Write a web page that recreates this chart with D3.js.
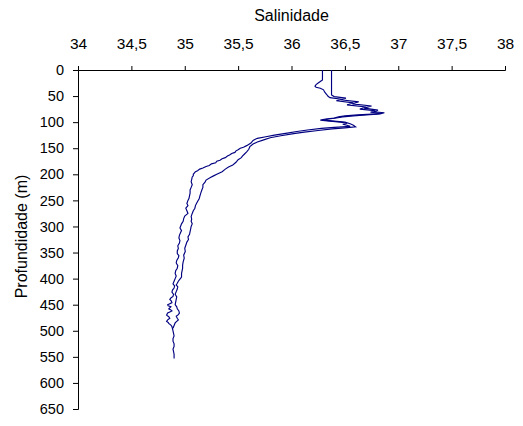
<!DOCTYPE html>
<html>
<head>
<meta charset="utf-8">
<script src="https://cdn.jsdelivr.net/npm/d3@7"></script>
<style>
  html, body { margin: 0; padding: 0; background: #fff; }
  svg { display: block; font-family: "Liberation Sans", Arial, sans-serif; }
</style>
</head>
<body>
<svg id="chart" width="523" height="426"></svg>
<script>
// Salinity ticks (top axis) and depth ticks (left axis)
const salTicks = [34, 34.5, 35, 35.5, 36, 36.5, 37, 37.5, 38];
const depthTicks = [0, 50, 100, 150, 200, 250, 300, 350, 400, 450, 500, 550, 600, 650];

// Profile 1: [depth (m), salinity]
const perfil1 = [
  [0, 36.29], [5, 36.29], [10, 36.29], [15, 36.29], [19, 36.29], [22, 36.27], [25, 36.25],
  [28, 36.23], [31, 36.22], [33, 36.23], [35, 36.27], [38, 36.30], [42, 36.31], [47, 36.33],
  [50, 36.34], [53, 36.36], [56, 36.47], [59, 36.42], [63, 36.58], [67, 36.52], [71, 36.70],
  [75, 36.64], [78, 36.78], [81, 36.74], [83, 36.84], [84, 36.80], [86, 36.62], [88, 36.50],
  [90, 36.44], [92, 36.40], [94, 36.32], [96, 36.27], [98, 36.36], [100, 36.46], [102, 36.52],
  [104, 36.48], [106, 36.52], [108, 36.55], [110, 36.40], [112, 36.28], [115, 36.15], [118, 36.05],
  [121, 35.96], [125, 35.84], [128, 35.76], [131, 35.68], [135, 35.64], [140, 35.62], [145, 35.58],
  [148, 35.55], [150, 35.52], [153, 35.50], [155, 35.48], [158, 35.47], [160, 35.44], [163, 35.42],
  [165, 35.40], [168, 35.38], [170, 35.35], [173, 35.33], [175, 35.30], [178, 35.29], [180, 35.25],
  [183, 35.23], [185, 35.20], [188, 35.17], [190, 35.14], [193, 35.12], [195, 35.10], [200, 35.08],
  [203, 35.08], [205, 35.07], [210, 35.065], [214, 35.06], [220, 35.07], [225, 35.06], [230, 35.05],
  [236, 35.05], [241, 35.045], [246, 35.04], [250, 35.03], [256, 35.02], [260, 35.03], [265, 35.01],
  [270, 35.02], [275, 35.03], [280, 35.00], [285, 34.99], [290, 34.985], [295, 34.97], [303, 34.955],
  [308, 34.97], [312, 34.96], [317, 34.95], [322, 34.945], [327, 34.955], [332, 34.95], [337, 34.935],
  [342, 34.94], [347, 34.93], [352, 34.93], [356, 34.945], [360, 34.94], [365, 34.925], [370, 34.92],
  [375, 34.935], [380, 34.93], [385, 34.915], [390, 34.91], [395, 34.92], [400, 34.91], [405, 34.90],
  [410, 34.89], [414, 34.905], [418, 34.90], [422, 34.885], [426, 34.88], [430, 34.895], [434, 34.89],
  [437, 34.87], [440, 34.86], [443, 34.875], [446, 34.88], [448, 34.86], [450, 34.84], [452, 34.845],
  [454, 34.87], [456, 34.86], [458, 34.85], [460, 34.87], [462, 34.88], [464, 34.86], [466, 34.84],
  [468, 34.835], [470, 34.83], [473, 34.85], [476, 34.86], [479, 34.84], [482, 34.83], [484, 34.845],
  [486, 34.85], [489, 34.87], [492, 34.88], [496, 34.885], [500, 34.89], [505, 34.895], [510, 34.90],
  [515, 34.89], [520, 34.89], [525, 34.90], [530, 34.90], [535, 34.89], [540, 34.895], [545, 34.90],
  [548, 34.90], [553, 34.90]
];

// Profile 2: [depth (m), salinity]
const perfil2 = [
  [0, 36.375], [10, 36.375], [20, 36.375], [30, 36.375], [40, 36.375], [48, 36.375],
  [51, 36.40], [54, 36.51], [57, 36.46], [61, 36.63], [65, 36.57], [69, 36.75], [73, 36.68],
  [77, 36.81], [80, 36.77], [82, 36.87], [84, 36.83], [86, 36.70], [88, 36.58],
  [90, 36.48], [92, 36.42], [94, 36.35], [96, 36.30], [98, 36.40], [100, 36.50], [103, 36.55],
  [106, 36.58], [109, 36.60], [111, 36.50], [113, 36.38], [116, 36.25], [119, 36.12], [122, 36.02],
  [126, 35.90], [130, 35.80], [134, 35.74], [138, 35.68], [142, 35.64], [147, 35.61], [152, 35.60],
  [157, 35.58], [161, 35.56], [165, 35.54], [168, 35.53], [172, 35.50], [177, 35.48], [182, 35.45],
  [186, 35.41], [190, 35.38], [195, 35.35], [200, 35.30], [203, 35.27], [206, 35.24], [211, 35.20],
  [215, 35.19], [220, 35.17], [225, 35.17], [230, 35.16], [236, 35.15], [243, 35.14], [247, 35.135],
  [252, 35.12], [256, 35.11], [260, 35.10], [265, 35.095], [270, 35.08], [275, 35.07], [281, 35.06],
  [286, 35.065], [290, 35.06], [295, 35.07], [300, 35.06], [305, 35.055], [310, 35.05], [315, 35.045],
  [320, 35.03], [325, 35.035], [330, 35.02], [336, 35.01], [342, 35.00], [348, 35.005], [355, 34.99],
  [361, 34.995], [368, 34.985], [374, 34.98], [380, 34.98], [385, 34.975], [390, 34.97], [397, 34.97],
  [401, 34.955], [405, 34.94], [409, 34.93], [412, 34.92], [416, 34.935], [420, 34.93], [425, 34.92],
  [430, 34.91], [435, 34.925], [440, 34.92], [445, 34.915], [450, 34.91], [454, 34.925], [458, 34.93],
  [462, 34.945], [466, 34.95], [469, 34.94], [472, 34.92], [476, 34.93], [479, 34.94], [482, 34.925],
  [485, 34.91], [490, 34.90], [495, 34.89]
];

const svg = d3.select("#chart");
const mLeft = 78, mRight = 505, mTop = 70, mBottom = 409;

const x = d3.scaleLinear().domain([34, 38]).range([mLeft, mRight]);
const y = d3.scaleLinear().domain([0, 650]).range([mTop, mBottom]);

const ptBR = d3.formatLocale({ decimal: ",", thousands: ".", grouping: [3], currency: ["R$", ""] });
const fmt = v => ptBR.format("~g")(v);

// Top salinity axis
const xAxis = svg.append("g")
  .attr("transform", `translate(0,${mTop})`)
  .call(d3.axisTop(x).tickValues(salTicks).tickFormat(fmt).tickSize(4).tickPadding(17));
xAxis.selectAll("text").attr("font-size", "15.5px").attr("fill", "#000")
  .attr("font-family", "Liberation Sans, Arial, sans-serif");

// Left depth axis
const yAxis = svg.append("g")
  .attr("transform", `translate(${mLeft},0)`)
  .call(d3.axisLeft(y).tickValues(depthTicks).tickFormat(d3.format("d")).tickSize(5).tickPadding(9));
yAxis.selectAll("text").attr("font-size", "14.5px").attr("fill", "#000")
  .attr("font-family", "Liberation Sans, Arial, sans-serif");

svg.selectAll(".domain, .tick line").attr("stroke", "#000").attr("stroke-width", 1);

// Axis titles
svg.append("text")
  .attr("x", (mLeft + mRight) / 2).attr("y", 21)
  .attr("text-anchor", "middle").attr("font-size", "16px").attr("fill", "#000")
  .text("Salinidade");

svg.append("text")
  .attr("transform", `translate(27,${(mTop + mBottom) / 2 - 3}) rotate(-90)`)
  .attr("text-anchor", "middle").attr("font-size", "16px").attr("fill", "#000")
  .text("Profundidade (m)");

// Profiles
const line = d3.line().x(d => x(d[1])).y(d => y(d[0]));
[perfil1, perfil2].forEach(p => {
  svg.append("path")
    .datum(p)
    .attr("d", line)
    .attr("fill", "none")
    .attr("stroke", "#000080")
    .attr("stroke-width", 1.15)
    .attr("stroke-linejoin", "miter");
});
</script>
</body>
</html>
